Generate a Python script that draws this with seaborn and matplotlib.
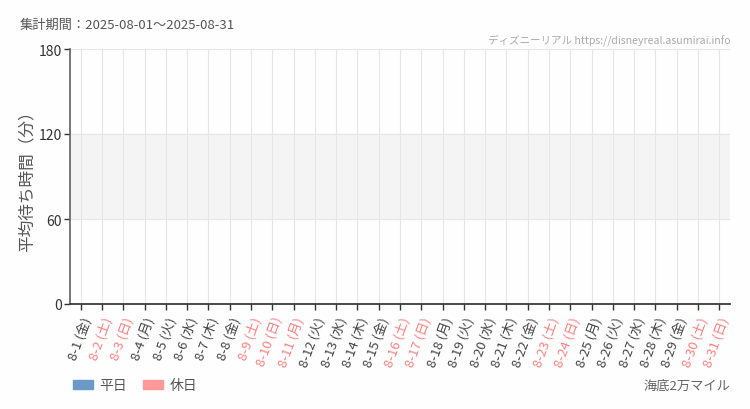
import matplotlib
matplotlib.use("Agg")
import matplotlib.pyplot as plt
import seaborn as sns
import pandas as pd

# data: August 2025, no waiting-time values recorded (all bars empty)
days = [f"8-{d}" for d in range(1, 32)]
weekdays = ["金", "土", "日", "月", "火", "水", "木"] * 5
weekdays = weekdays[:31]
holidays = [2, 3, 9, 10, 11, 16, 17, 23, 24, 30, 31]
wait_minutes = [0] * 31

labels = [f"{d} ({w})" for d, w in zip(days, weekdays)]
kinds = ["休日" if i + 1 in holidays else "平日" for i in range(31)]
df = pd.DataFrame({"day": labels, "wait": wait_minutes, "kind": kinds})

sns.set_theme(style="white")
plt.rcParams["font.family"] = ["Noto Sans CJK JP", "DejaVu Sans"]

fig = plt.figure(figsize=(7.5, 4.1), dpi=100)
fig.patch.set_facecolor("#fdfefd")
ax = fig.add_axes([70 / 750, 1 - 305 / 410, 660 / 750, 255 / 410])
ax.set_facecolor("#fdfefd")

palette = {"平日": "#6b9ac8", "休日": "#ff9999"}
sns.barplot(data=df, x="day", y="wait", hue="kind", palette=palette,
            dodge=False, ax=ax, legend=False)

ax.axhspan(60, 120, color="#f4f4f4", zorder=0)
ax.set_xlim(-0.5, 30.5)
ax.set_ylim(0, 180)
ax.set_yticks([0, 60, 120, 180])
for x in range(31):
    ax.axvline(x, color="#e6e6e6", lw=0.8, zorder=0.5)
for y in [60, 120, 180]:
    ax.axhline(y, color="#e6e6e6", lw=0.8, zorder=0.5)

ax.set_xlabel("")
ax.set_ylabel("平均待ち時間（分）", fontsize=12, color="#555555", labelpad=2)
ax.tick_params(axis="y", labelsize=10, colors="#333333", length=4, width=1, direction="out", left=True, pad=2)
ax.tick_params(axis="x", length=4, width=1, direction="out", bottom=True, color="#333333")
ax.set_xticks(range(31))
ax.set_xticklabels(labels, rotation=70, ha="right", rotation_mode="anchor", fontsize=9.5)
for lbl, k in zip(ax.get_xticklabels(), kinds):
    lbl.set_color("#ff8080" if k == "休日" else "#444444")

for s in ["top", "right"]:
    ax.spines[s].set_visible(False)
ax.spines["left"].set_color("#666666")
ax.spines["bottom"].set_color("#333333")

fig.text(20 / 750, 1 - 25 / 410, "集計期間：2025-08-01～2025-08-31", fontsize=9.5,
         color="#555555", va="center", ha="left")
fig.text(730 / 750, 1 - 40 / 410, "ディズニーリアル https://disneyreal.asumirai.info",
         fontsize=7.6, color="#aaaaaa", va="center", ha="right")
fig.text(730 / 750, 1 - 386 / 410, "海底2万マイル", fontsize=9.5, color="#666666",
         va="center", ha="right")

handles = [plt.Rectangle((0, 0), 1, 1, color=palette["平日"]),
           plt.Rectangle((0, 0), 1, 1, color=palette["休日"])]
fig.legend(handles, ["平日", "休日"], loc="center left", bbox_to_anchor=(60 / 750, 1 - 386 / 410),
           ncol=2, frameon=False, fontsize=10, handlelength=1.45, handleheight=0.6,
           handletextpad=0.45, columnspacing=1.2, labelcolor="#555555")

fig.savefig("out.png", dpi=100, facecolor=fig.get_facecolor())
